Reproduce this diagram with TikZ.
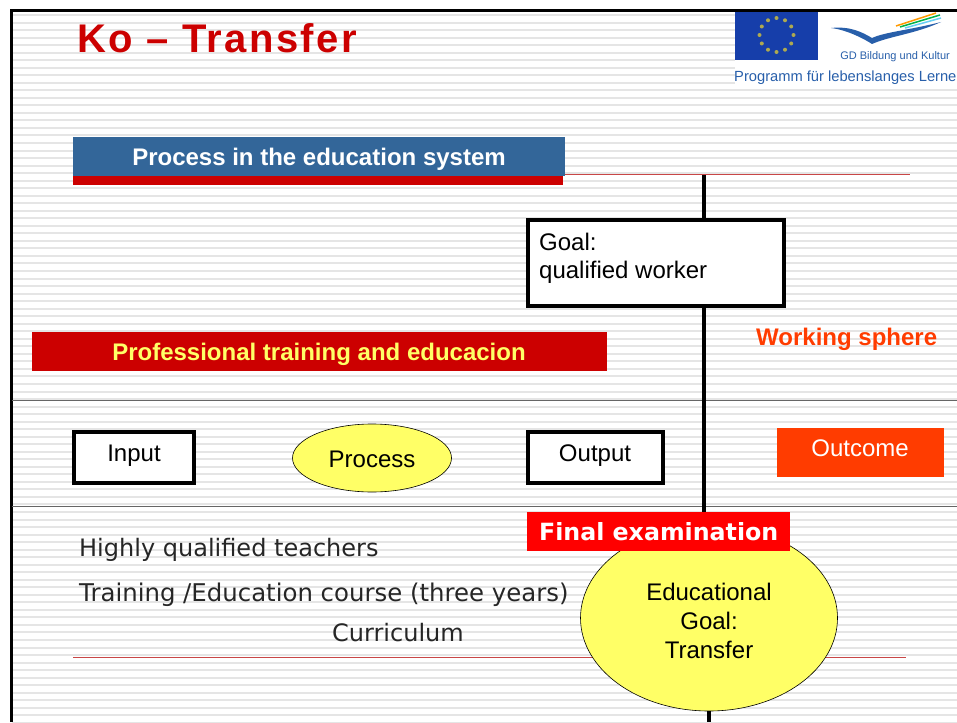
\documentclass[tikz,border=0pt]{standalone}
\usepackage{fontspec}
\setmainfont{Liberation Sans}
\newfontfamily\versans{DejaVu Sans}
\newfontfamily\titlefont[LetterSpace=6]{Liberation Sans}
\definecolor{barblue}{RGB}{51,102,153}
\definecolor{barred}{RGB}{204,0,0}
\definecolor{softyellow}{RGB}{255,255,102}
\definecolor{hotorange}{RGB}{255,60,0}
\definecolor{euroblue}{RGB}{22,62,170}
\definecolor{logoblue}{RGB}{40,95,170}
\definecolor{thinred}{RGB}{200,70,70}
\tikzset{
    outbox/.style={draw=black,line width=3.5pt,fill=white,inner sep=0pt},
    blob/.style={ellipse,draw=black,line width=0.6pt,fill=softyellow,inner sep=0pt,align=center,text=black},
    bar/.style={inner sep=0pt,font=\bfseries},
    plain24/.style={inner sep=0pt,font=\fontsize{24}{28}\selectfont},
    bold24/.style={inner sep=0pt,font=\bfseries\fontsize{24}{28}\selectfont},
    verd24/.style={inner sep=0pt,text=black!85,font=\versans\fontsize{24}{28}\selectfont}
}
\usetikzlibrary{shapes.geometric}
\begin{document}
\begin{tikzpicture}[x=1pt,y=-1pt]
    \useasboundingbox (0,0) rectangle (957,722);
    \fill[white] (0,0) rectangle (957,722);
    % stripes
    \foreach \s in {0,...,94} {
        \fill[black!10] (12,14+7.53*\s) rectangle (957,16+7.53*\s);
    }
    % frame
    \fill[black] (10,9) rectangle (957,12);
    \fill[black] (10,9) rectangle (13,722);
    % title
    \node[anchor=west,text=barred,inner sep=0pt,font=\titlefont\bfseries\fontsize{40}{41}\selectfont] (title) at (77,38) {Ko – Transfer};
    % logo
    \fill[white] (735,12) rectangle (957,88);
    \fill[euroblue] (735,12) rectangle (818,60);
    \foreach \a in {0,30,...,330} {
        \fill[yellow!60!black!90] (776.5,35)++(\a:17) circle (2);
    }
    \fill[logoblue] (831,28) .. controls (850,26) and (862,32) .. (872,38) .. controls (885,32) and (910,30) .. (941,22) .. controls (915,34) and (890,36) .. (872,44) .. controls (866,40) and (848,30) .. cycle;
    \draw[orange!80!yellow,line width=1.5pt] (896,26) -- (936,13);
    \draw[teal!60!green,line width=1.5pt] (900,27) -- (940,15);
    \draw[cyan!60,line width=1.5pt] (905,28) -- (941,18);
    \node[anchor=east,text=logoblue,inner sep=0pt,font=\fontsize{11}{12}\selectfont] (gd) at (950,57) {GD Bildung und Kultur};
    \node[anchor=west,text=logoblue,inner sep=0pt,font=\fontsize{14.7}{15}\selectfont] (programm) at (734,78) {Programm für lebenslanges Lerne};
    % header bar
    \fill[barred] (73,170) rectangle (563,185);
    \node[anchor=north west,fill=barblue,minimum width=492pt,minimum height=39pt,inner sep=0pt] (header) at (73,137) {};
    \node[bold24,text=white] (headertext) at (319,159) {Process in the education system};
    % thin lines
    \draw[thinred,line width=1pt] (header.south east |- 0,174.5) -- (910,174.5);
    \draw[thinred,line width=1pt] (73,657.5) -- (906,657.5);
    \draw[black!60,line width=1pt] (12,400.5) -- (957,400.5);
    \draw[black!60,line width=1pt] (12,506.5) -- (957,506.5);
    % boxes
    \node[outbox,anchor=north west,minimum width=256pt,minimum height=86pt] (goal) at (526,218) {};
    \node[anchor=west,align=left,inner sep=0pt,font=\fontsize{24}{28}\selectfont] (goaltext) at (539,258) {Goal:\\qualified worker};
    \coordinate (toptick) at (704,175);
    \coordinate (midtick) at (704,512);
    \coordinate (lowtick) at (709,722);
    \draw[black,line width=3.5pt] (toptick) -- (goal.north -| toptick);
    \draw[black,line width=3.5pt] (goal.south -| toptick) -- (midtick);
    \node[anchor=north west,fill=barred,minimum width=575pt,minimum height=39pt,inner sep=0pt] (training) at (32,332) {};
    \node[bold24,text=softyellow] (trainingtext) at (319,354) {Professional training and educacion};
    \node[bold24,anchor=west,text=hotorange] (sphere) at (756,339) {Working sphere};
    % row
    \node[outbox,anchor=north west,minimum width=120pt,minimum height=51pt] (input) at (72,430) {};
    \node[plain24] (inputtext) at (134,456) {Input};
    \node[blob,minimum width=159pt,minimum height=68pt] (process) at (372,458) {};
    \node[plain24] (processtext) at (372,459) {Process};
    \node[outbox,anchor=north west,minimum width=135pt,minimum height=51pt] (output) at (526,430) {};
    \node[plain24] (outputtext) at (595,456) {Output};
    \node[anchor=north west,inner sep=0pt,fill=hotorange,minimum width=167pt,minimum height=49pt] (outcome) at (777,428) {};
    \node[plain24,text=white] (outcometext) at (860,448) {Outcome};
    % lower part
    \node[verd24,anchor=west] (teachers) at (79,550) {Highly qualified teachers};
    \node[verd24,anchor=west,font=\versans\fontsize{24.4}{28}\selectfont] (course) at (79,595) {Training /Education course (three years)};
    \node[verd24] (curriculum) at (398,633) {Curriculum};
    \node[blob,minimum width=257pt,minimum height=186pt] (edugoal) at (709,618) {};
    \node[inner sep=0pt,align=center,font=\fontsize{24}{29}\selectfont] (edugoaltext) at (709,621) {Educational\\Goal:\\Transfer};
    \draw[black,line width=3.5pt] (edugoal.south) -- (lowtick);
    \node[bar,anchor=north west,fill=red,text=white,minimum width=263pt,minimum height=39pt,font=\versans\bfseries\fontsize{23.7}{28}\selectfont] (final) at (527,512) {Final examination};
\end{tikzpicture}
\end{document}
